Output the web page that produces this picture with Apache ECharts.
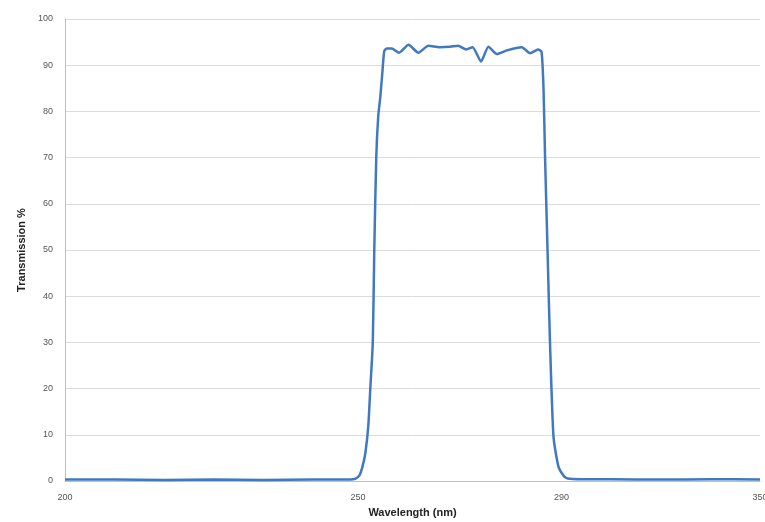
<!DOCTYPE html>
<html>
<head>
<meta charset="utf-8">
<script src="https://cdn.jsdelivr.net/npm/echarts@6/dist/echarts.min.js"></script>
<style>
  html, body { margin: 0; padding: 0; background: #fff; }
  #chart { width: 765px; height: 522px; }
</style>
</head>
<body>
<div id="chart"></div>
<script>
// x positions are in axis units (the source axis is a category-style axis,
// labels are not evenly spaced in nm)
const xTickPos = [0, 59, 100, 140]
const xTickText = ['200', '250', '290', '350']

// transmission curve, [position, %]
const curveX = [
  0, 10, 20, 30, 40, 50, 56, 58.5,
  59.3, 59.9, 60.5, 61.1, 61.5, 62.0, 62.3, 62.7, 63.1, 63.5, 63.9, 64.3,
  64.8, 65.8, 67.3, 69.2, 71.2, 73.2, 75.5, 77.6, 79.2, 80.8, 82.1, 83.8,
  85.3, 87.0, 89.0, 92.0, 93.7, 95.3, 96.0,
  96.4, 96.7, 97.2, 97.7, 98.4, 99.4, 100.4, 101.1, 104, 110, 120, 130, 140
]
const curveY = [
  0.3, 0.3, 0.2, 0.3, 0.2, 0.3, 0.3, 0.5,
  1.2, 3, 6, 12, 20, 30, 50, 70, 79, 83, 88, 93,
  93.6, 93.6, 92.7, 94.4, 92.7, 94.2, 93.9, 94.0, 94.2, 93.4, 93.9, 90.8,
  94.0, 92.4, 93.2, 93.9, 92.6, 93.4, 92.9,
  84.6, 70.2, 50, 29.9, 9.6, 3.1, 1.2, 0.6, 0.4, 0.4, 0.3, 0.4, 0.3
]

const yTicks = [0, 100, 10]   // min, max, step

const chart = echarts.init(document.getElementById('chart'))

const seriesData = curveX.map((x, i) => [x, curveY[i]])

const options = {
  animation: false,
  textStyle: { fontFamily: 'Liberation Sans, Noto Sans, sans-serif' },
  grid: {
    left: 65,
    right: 5,
    top: 19,
    bottom: 41,
    outerBoundsMode: 'none'
  },
  xAxis: {
    type: 'value',
    min: xTickPos[0],
    max: xTickPos[xTickPos.length - 1],
    name: 'Wavelength (nm)',
    nameLocation: 'middle',
    nameGap: 26,
    nameTextStyle: { fontSize: 11, fontWeight: 'bold', color: '#222' },
    axisLine: { show: true, lineStyle: { color: '#bfbfbf' } },
    axisTick: { show: false },
    splitLine: { show: false },
    axisLabel: {
      customValues: xTickPos,
      fontSize: 9,
      color: '#555',
      margin: 12,
      formatter: (v) => {
        const k = xTickPos.indexOf(v)
        return k >= 0 ? xTickText[k] : ''
      }
    }
  },
  yAxis: {
    type: 'value',
    min: yTicks[0],
    max: yTicks[1],
    interval: yTicks[2],
    name: 'Transmission %',
    nameLocation: 'middle',
    nameGap: 35,
    nameTextStyle: { fontSize: 11, fontWeight: 'bold', color: '#222' },
    axisLine: { show: true, lineStyle: { color: '#bfbfbf' } },
    axisTick: { show: false },
    axisLabel: { fontSize: 9, color: '#555', margin: 12 },
    splitLine: { lineStyle: { color: '#dcdcdc', width: 1 } }
  },
  series: [
    {
      type: 'line',
      data: seriesData,
      showSymbol: false,
      smooth: 0.2,
      lineStyle: { color: '#4179c0', width: 2.5 }
    }
  ]
}
chart.setOption(options)
</script>
</body>
</html>
